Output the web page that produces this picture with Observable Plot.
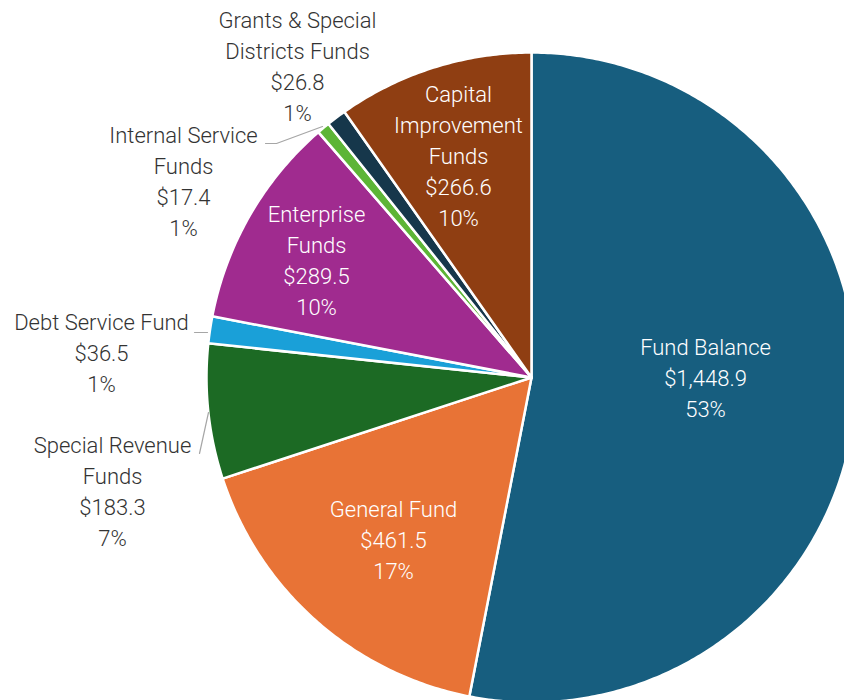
<!DOCTYPE html>
<html>
<head>
<meta charset="utf-8">
<script src="https://cdn.jsdelivr.net/npm/d3@7"></script>
<script src="https://cdn.jsdelivr.net/npm/@observablehq/plot@0.6"></script>
<style>
  html, body { margin: 0; padding: 0; background: #fff; }
  #chart { width: 844px; height: 700px; overflow: hidden; }
</style>
</head>
<body>
<div id="chart"></div>
<script>
// ---- data (clockwise from 12 o'clock) ----
const categories = [
  "Fund Balance",
  "General Fund",
  "Special Revenue Funds",
  "Debt Service Fund",
  "Enterprise Funds",
  "Internal Service Funds",
  "Grants & Special Districts Funds",
  "Capital Improvement Funds"
];
const amounts = [1448.9, 461.5, 183.3, 36.5, 289.5, 17.4, 26.8, 266.6];
const percentLabels = ["53%", "17%", "7%", "1%", "10%", "1%", "1%", "10%"];
const nameLines = [
  ["Fund Balance"],
  ["General Fund"],
  ["Special Revenue", "Funds"],
  ["Debt Service Fund"],
  ["Enterprise", "Funds"],
  ["Internal Service", "Funds"],
  ["Grants & Special", "Districts Funds"],
  ["Capital", "Improvement", "Funds"]
];
const colors = ["#175e7f", "#e87336", "#1c6a24", "#1aa0d8", "#a02b8f", "#5db536", "#16374b", "#8f3e12"];

// ---- layout (pixel geometry) ----
const W = 844, H = 700;
const CX = 531, CY = 377, R = 325;
// label centres, in pixels
const labelPx = [[705, 376], [393, 538], [112, 489], [101, 351], [316, 258], [183, 179], [297, 64], [458, 154]];
const insideLabel = [true, true, false, false, true, false, false, true];
// leader lines, in pixels
const leaders = [
  {k: 2, pts: [[199, 453], [208, 412]]},
  {k: 3, pts: [[194, 332], [207, 332]]},
  {k: 5, pts: [[265, 143], [276, 143], [322, 126]]}
];

// data units: 1 unit = radius
const toX = px => (px - CX) / R;
const toY = py => (CY - py) / R;

const fmt = v => "$" + d3.format(",.1f")(v);
const pie = d3.pie().sort(null).value(d => d.amount)(
  categories.map((c, i) => ({name: c, amount: amounts[i], i}))
);

// arc polygons
const slicePts = [];
pie.forEach(a => {
  const i = a.data.i;
  slicePts.push({k: categories[i], x: 0, y: 0});
  const n = Math.max(4, Math.ceil((a.endAngle - a.startAngle) / 0.01));
  for (let j = 0; j <= n; j++) {
    const t = a.startAngle + (a.endAngle - a.startAngle) * j / n;
    slicePts.push({k: categories[i], x: Math.sin(t), y: Math.cos(t)});
  }
});

const labels = categories.map((c, i) => ({
  k: c,
  text: [...nameLines[i], fmt(amounts[i]), percentLabels[i]].join("\n"),
  x: toX(labelPx[i][0]),
  y: toY(labelPx[i][1]),
  inside: insideLabel[i]
}));

const leaderPts = leaders.flatMap(l => l.pts.map(p => ({k: categories[l.k], x: toX(p[0]), y: toY(p[1])})));

const chart = Plot.plot({
  width: W,
  height: H,
  margin: 0,
  x: {domain: [toX(0), toX(W)], axis: null},
  y: {domain: [toY(H), toY(0)], axis: null},
  color: {domain: categories, range: colors},
  style: {fontFamily: "Roboto, sans-serif", background: "#fff"},
  marks: [
    Plot.line(slicePts, {x: "x", y: "y", z: "k", fill: "k", stroke: "#fff", strokeWidth: 2.5, curve: "linear-closed", strokeLinejoin: "round"}),
    Plot.line(leaderPts, {x: "x", y: "y", z: "k", stroke: "#a6a6a6", strokeWidth: 1.2}),
    Plot.text(labels.filter(d => d.inside), {x: "x", y: "y", text: "text", fill: "#fff", fontSize: 22, fontWeight: 300, lineHeight: 1.41, textAnchor: "middle", lineAnchor: "middle"}),
    Plot.text(labels.filter(d => !d.inside), {x: "x", y: "y", text: "text", fill: "#333", fontSize: 22, fontWeight: 300, lineHeight: 1.41, textAnchor: "middle", lineAnchor: "middle"})
  ]
});
document.getElementById("chart").appendChild(chart);
</script>
</body>
</html>
